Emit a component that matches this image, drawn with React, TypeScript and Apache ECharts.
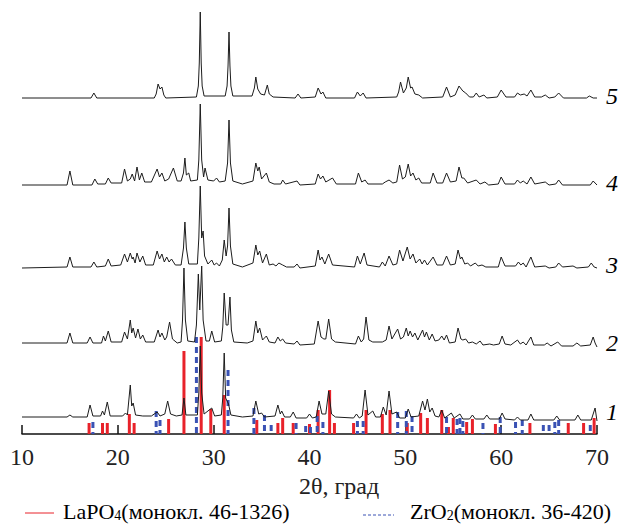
import React, { useEffect, useRef } from "react";
import * as echarts from "echarts";

// X axis
const xMin = 10;
const xMax = 70;
const xTicks = [10, 20, 30, 40, 50, 60, 70];

// Vertical offsets of the patterns (stacked curves), arbitrary units
const curveNames = ["1", "2", "3", "4", "5"];
const curveOffsets = [16, 89, 166, 249, 336];

// Pattern 1 (bottom) [2θ, I]
const pattern1: number[][] = [
  [10, 1], [14.7, 1], [15.0, 3], [15.3, 1], [16.8, 1], [17.1, 13], [17.4, 2], [18.2, 2], [18.4, 7], [18.6, 3],
  [18.9, 16], [19.2, 2], [20.5, 2], [20.8, 5], [21.0, 3], [21.3, 33], [21.45, 12], [21.6, 15], [21.85, 3], [22.6, 2],
  [23.5, 2], [24.1, 6], [24.4, 2], [24.9, 4], [25.2, 17], [25.5, 4], [26.1, 2], [26.7, 3], [26.9, 20], [27.1, 3],
  [28.3, 3], [28.45, 25], [28.6, 72], [28.75, 25], [29.0, 4], [29.8, 10], [30.1, 2], [30.8, 3], [30.95, 20], [31.1, 65],
  [31.25, 20], [31.55, 14], [31.8, 3], [33.0, 1], [34.1, 2], [34.4, 17], [34.7, 4], [35.0, 5], [35.3, 1], [36.4, 2],
  [36.7, 13], [36.95, 4], [37.1, 7], [37.4, 1], [38.0, 1], [38.3, 6], [38.6, 0], [39.7, 0], [40.0, 4], [40.3, 0],
  [40.7, 1], [41.0, 17], [41.3, 4], [41.7, 4], [42.0, 27], [42.3, 4], [42.7, 1], [44.6, 0], [44.9, 4], [45.2, 0],
  [45.5, 2], [45.8, 28], [46.1, 3], [46.6, 7], [46.9, 1], [47.4, 1], [47.7, 11], [48.0, 3], [48.3, 27], [48.6, 4],
  [49.1, 6], [49.4, 0], [50.0, 0], [50.3, 9], [50.6, 1], [51.4, 2], [51.8, 17], [52.05, 8], [52.3, 19], [52.55, 6],
  [52.8, 10], [53.1, 2], [53.5, 1], [53.8, 8], [54.1, 0], [54.8, 5], [55.1, 0], [55.7, 4], [56.0, -1], [56.7, -1],
  [57.0, 3], [57.3, -1], [58.2, -1], [58.5, 3], [58.8, -1], [59.8, -1], [60.1, 5], [60.4, -1], [61.4, -2], [61.7, 1],
  [62.0, -2], [62.8, -2], [63.1, 4], [63.4, -2], [65.5, -2], [65.8, 2], [66.1, -2], [67.7, -2], [68.0, 3], [68.3, -2],
  [69.4, -2], [69.8, 10], [70, -3],
];

// Pattern 2
const pattern2: number[][] = [
  [10, 2], [14.7, 2], [15.0, 12], [15.3, 2], [16.8, 2], [17.1, 8], [17.4, 2], [18.3, 2], [18.5, 9], [18.7, 4],
  [19.0, 14], [19.3, 3], [20.4, 3], [20.7, 13], [21.0, 6], [21.3, 25], [21.45, 12], [21.6, 17], [21.85, 7], [22.1, 16],
  [22.35, 6], [22.6, 10], [22.9, 3], [23.8, 3], [24.2, 15], [24.4, 8], [24.6, 12], [24.9, 5], [25.1, 8], [25.4, 23],
  [25.7, 6], [26.2, 2], [26.6, 3], [26.75, 25], [26.9, 77], [27.05, 25], [27.3, 4], [28.0, 3], [28.2, 20], [28.4, 71],
  [28.55, 35], [28.75, 79], [28.9, 25], [29.2, 4], [29.55, 4], [29.8, 14], [30.1, 3], [30.8, 4], [30.95, 18], [31.1, 52],
  [31.3, 20], [31.5, 20], [31.7, 48], [31.85, 15], [32.1, 3], [33.5, 2], [34.1, 4], [34.4, 24], [34.6, 12], [34.8, 17],
  [35.1, 5], [35.5, 9], [35.8, 3], [36.4, 2], [36.7, 8], [36.95, 4], [37.2, 6], [37.5, 2], [38.4, 1], [38.7, 4],
  [39.0, 0], [40.5, 1], [40.9, 24], [41.2, 8], [41.5, 6], [41.7, 6], [42.0, 26], [42.3, 6], [42.7, 3], [44.8, 1],
  [45.1, 9], [45.4, 3], [45.65, 6], [45.9, 28], [46.2, 5], [46.6, 3], [47.6, 3], [48.0, 5], [48.3, 19], [48.6, 6],
  [49.2, 16], [49.5, 6], [49.8, 8], [50.1, 17], [50.3, 9], [50.5, 14], [50.75, 8], [51.0, 12], [51.3, 5], [51.8, 15],
  [52.0, 8], [52.2, 13], [52.5, 5], [52.8, 11], [53.1, 4], [53.5, 5], [53.8, 9], [54.05, 5], [54.3, 10], [54.6, 2],
  [55.2, 3], [55.5, 17], [55.8, 6], [56.0, 5], [56.3, 6], [56.6, 2], [57.0, 3], [57.4, 1], [57.8, 4], [58.1, 0],
  [58.8, 1], [59.2, 0], [59.8, 1], [60.1, 9], [60.4, 1], [61.0, 0], [61.7, 5], [62.0, 1], [62.3, 3], [62.6, 0],
  [63.1, 8], [63.4, 0], [64.5, 0], [64.8, 2], [65.2, -1], [65.9, 3], [66.3, -1], [67.5, -1], [67.9, 2], [68.3, -1],
  [69.3, 0], [69.6, 8], [69.8, 2], [70, -2],
];

// Pattern 3
const pattern3: number[][] = [
  [10, 0], [14.7, 1], [15.0, 11], [15.3, 1], [17.2, 1], [17.5, 6], [17.8, 1], [18.7, 2], [19.0, 9], [19.3, 2],
  [20.3, 3], [20.7, 14], [21.0, 6], [21.3, 15], [21.5, 9], [21.6, 11], [21.8, 5], [22.0, 15], [22.3, 6], [22.6, 12],
  [22.9, 3], [23.7, 3], [24.1, 17], [24.35, 9], [24.6, 14], [24.85, 6], [25.1, 11], [25.35, 6], [25.6, 9], [26.0, 3],
  [26.6, 3], [26.85, 20], [27.0, 46], [27.15, 20], [27.4, 4], [28.3, 4], [28.45, 30], [28.6, 82], [28.75, 30], [28.9, 37],
  [29.05, 12], [29.4, 4], [29.8, 8], [30.05, 3], [30.3, 5], [30.6, 2], [30.9, 8], [31.1, 28], [31.3, 12], [31.45, 22],
  [31.6, 60], [31.75, 22], [32.0, 4], [33.0, 1], [34.1, 5], [34.4, 23], [34.6, 13], [34.8, 17], [35.1, 5], [35.5, 14],
  [35.8, 3], [36.2, 4], [36.5, 2], [36.8, 5], [37.2, 3], [37.6, 1], [38.4, 1], [38.7, 4], [39.0, 0], [40.6, 2],
  [40.9, 18], [41.1, 8], [41.3, 11], [41.6, 4], [42.0, 14], [42.4, 3], [44.7, 1], [45.0, 12], [45.3, 4], [45.7, 15],
  [46.0, 3], [47.3, 1], [47.6, 6], [47.9, 2], [48.3, 12], [48.7, 3], [49.1, 4], [49.4, 18], [49.75, 7], [50.2, 21],
  [50.5, 9], [50.8, 14], [51.1, 5], [51.5, 9], [51.75, 4], [52.0, 8], [52.3, 3], [52.9, 11], [53.3, 3], [53.9, 3],
  [54.3, 12], [54.7, 3], [55.2, 4], [55.5, 18], [55.75, 9], [55.9, 11], [56.2, 4], [56.5, 5], [56.8, 2], [57.3, 5],
  [57.6, 2], [58.0, 3], [58.4, 1], [59.7, 1], [60.0, 11], [60.4, 2], [61.5, 2], [61.8, 6], [62.05, 3], [62.3, 5],
  [62.6, 1], [63.1, 11], [63.5, 1], [64.6, 2], [65.0, 0], [65.7, 1], [66.0, 5], [66.4, 1], [67.5, 2], [67.9, 0],
  [69.1, 1], [69.4, 5], [69.7, 1], [70, 0],
];

// Pattern 4
const pattern4: number[][] = [
  [10, 0], [14.7, 0], [15.0, 14], [15.3, 0], [17.3, 0], [17.6, 6], [17.9, 1], [18.7, 1], [19.0, 7], [19.3, 2],
  [20.4, 2], [20.7, 16], [21.0, 4], [21.3, 6], [21.5, 11], [21.75, 4], [22.0, 18], [22.25, 5], [22.5, 12], [22.8, 3],
  [23.5, 3], [24.1, 16], [24.35, 8], [24.6, 12], [24.9, 4], [25.3, 6], [25.8, 17], [26.2, 4], [26.6, 4], [26.85, 12],
  [27.0, 27], [27.15, 10], [27.4, 12], [27.6, 4], [28.3, 5], [28.45, 25], [28.6, 81], [28.75, 25], [28.95, 8], [29.1, 17],
  [29.4, 5], [30.0, 4], [30.3, 7], [30.6, 3], [31.2, 4], [31.45, 22], [31.6, 65], [31.75, 22], [32.0, 4], [33.0, 1],
  [34.1, 4], [34.4, 22], [34.6, 14], [34.75, 18], [35.0, 6], [35.5, 12], [35.8, 3], [36.3, 1], [37.0, 1], [37.2, 5],
  [37.5, 1], [38.7, 4], [39.0, 0], [40.6, 1], [40.9, 11], [41.15, 6], [41.4, 9], [41.7, 3], [42.4, 7], [42.8, 1],
  [44.8, 1], [45.1, 12], [45.45, 3], [45.8, 5], [46.1, 1], [47.6, 1], [47.9, 3], [48.3, 5], [48.7, 2], [49.1, 3],
  [49.4, 20], [49.7, 6], [50.0, 8], [50.3, 21], [50.55, 9], [50.8, 12], [51.1, 5], [51.4, 7], [51.7, 2], [52.6, 2],
  [52.9, 12], [53.3, 2], [53.9, 2], [54.3, 12], [54.7, 3], [55.3, 4], [55.6, 18], [55.9, 7], [56.1, 7], [56.5, 2],
  [57.4, 5], [57.8, 1], [58.3, 3], [58.7, 0], [59.7, 1], [60.0, 8], [60.4, 1], [61.4, 1], [61.7, 5], [62.0, 2],
  [62.3, 4], [62.7, 1], [63.1, 8], [63.5, 1], [64.6, 3], [65.0, 0], [65.7, 1], [66.0, 5], [66.4, 0], [69.3, 0],
  [69.6, 4], [69.9, 1], [70, 0],
];

// Pattern 5 (top)
const pattern5: number[][] = [
  [10, 0], [17.2, 0], [17.5, 5], [17.8, 0], [23.8, 0], [24.0, 4], [24.2, 14], [24.4, 9], [24.6, 11], [24.8, 3],
  [25.0, 0], [28.2, 1], [28.4, 12], [28.5, 35], [28.6, 86], [28.7, 35], [28.8, 12], [29.0, 2], [31.2, 2], [31.4, 12],
  [31.5, 32], [31.6, 66], [31.7, 32], [31.8, 12], [32.0, 2], [34.0, 2], [34.25, 10], [34.4, 21], [34.6, 9], [34.9, 4],
  [35.3, 3], [35.6, 13], [35.8, 4], [36.2, 1], [38.5, 0], [38.8, 4], [39.1, 0], [40.6, 1], [40.9, 10], [41.2, 4],
  [41.4, 6], [41.7, 0], [44.7, 0], [45.0, 6], [45.3, 2], [45.6, 5], [45.9, 0], [49.1, 1], [49.3, 6], [49.5, 16],
  [49.8, 5], [50.1, 10], [50.3, 21], [50.55, 10], [50.7, 11], [51.0, 4], [51.4, 3], [51.8, 0], [53.9, 1], [54.3, 11],
  [54.7, 1], [55.2, 3], [55.6, 12], [56.0, 7], [56.3, 5], [56.7, 1], [57.1, 1], [57.4, 5], [57.7, 1], [58.2, 3],
  [58.5, 0], [59.6, 1], [60.0, 8], [60.5, 1], [61.4, 1], [61.7, 5], [62.0, 3], [62.4, 4], [62.7, 2], [63.1, 8],
  [63.5, 1], [64.2, 1], [64.6, 3], [65.0, 0], [65.6, 1], [66.0, 5], [66.5, 0], [68.9, 0], [69.2, 2], [69.6, 0],
  [70, 0],
];

// Reference lines: LaPO4 (monoclinic, 46-1326) [2θ, I]
const lapo4Lines: number[][] = [
  [17.0, 11], [18.4, 11], [18.9, 11], [21.2, 20], [21.7, 11], [25.3, 15], [26.9, 83], [28.7, 97], [29.7, 25],
  [31.1, 39], [34.5, 14], [36.7, 11], [37.2, 16], [38.3, 11], [40.0, 10], [40.9, 24], [42.1, 44], [42.6, 11],
  [44.6, 11], [45.9, 24], [47.6, 20], [48.4, 24], [50.2, 11], [51.6, 21], [52.3, 16], [53.8, 24], [54.5, 7],
  [55.0, 16], [56.4, 12], [57.0, 15], [59.4, 10], [63.0, 11], [67.0, 11], [68.6, 11], [69.7, 16],
];

// Reference lines: ZrO2 (monoclinic, 36-420) [2θ, I]
const zro2Lines: number[][] = [
  [17.4, 12], [24.0, 23], [24.4, 14], [28.2, 97], [31.5, 64], [34.2, 26], [35.3, 19], [36.0, 9], [38.6, 11],
  [39.6, 8], [40.1, 7], [40.8, 18], [41.4, 12], [45.0, 13], [45.6, 13], [49.2, 22], [50.1, 23], [50.7, 18],
  [54.3, 17], [55.4, 15], [55.7, 16], [56.0, 13], [58.1, 11], [59.9, 17], [61.5, 12], [62.2, 14], [64.4, 9],
  [65.0, 9], [65.6, 12], [66.0, 14], [69.3, 9],
];

const patterns = [pattern1, pattern2, pattern3, pattern4, pattern5];
const legendLaPO4 = ["LaPO", "4", "(монокл. 46-1326)"];
const legendZrO2 = ["ZrO", "2", "(монокл. 36-420)"];
const axisName = "2θ, град";

const SERIF = "Liberation Serif";
const RED = "#e8222a";
const BLUE = "#3a52b4";
const INK = "#222";

function stickSeries(name: string, data: number[][], color: string, dash: number[] | null) {
  return {
    type: "custom",
    name,
    data,
    encode: { x: 0, y: 1 },
    z: 1,
    renderItem: (_params: any, api: any) => {
      const top = api.coord([api.value(0), api.value(1)]);
      const bottom = api.coord([api.value(0), 0]);
      return {
        type: "line",
        shape: { x1: top[0], y1: top[1], x2: bottom[0], y2: bottom[1] },
        style: { stroke: color, lineWidth: 3, lineDash: dash || undefined },
      };
    },
  };
}

export default function App() {
  const ref = useRef<HTMLDivElement>(null);

  useEffect(() => {
    if (!ref.current) return;
    document.body.style.margin = "0";
    const chart = echarts.init(ref.current, null, { renderer: "svg" });

    const curveSeries = patterns.map((p, i) => ({
      type: "line",
      name: curveNames[i],
      data: p.map(([x, y]) => [x, y + curveOffsets[i]]),
      showSymbol: false,
      symbol: "none",
      z: 3,
      lineStyle: { color: "#1c1c1c", width: 1 },
    }));

    const labelYs = [412, 343, 265, 183, 96];

    const bigRich = {
      t: { fontFamily: SERIF, fontSize: 24, color: INK },
      i: { fontFamily: SERIF, fontSize: 24, color: INK, fontStyle: "italic" },
    };

    const subRich = {
      a: { fontFamily: SERIF, fontSize: 22, color: INK, lineHeight: 22 },
      s: { fontFamily: SERIF, fontSize: 14, color: INK, lineHeight: 22, verticalAlign: "bottom" },
    };

    chart.setOption({
      animation: false,
      backgroundColor: "#ffffff",
      textStyle: { fontFamily: SERIF },
      grid: { left: 22, right: 25, top: 4, bottom: 90 },
      xAxis: {
        type: "value",
        min: xMin,
        max: xMax,
        interval: 10,
        axisLine: { lineStyle: { color: "#111", width: 1.5 } },
        axisTick: { inside: true, length: 9, lineStyle: { color: "#111", width: 1.5 } },
        axisLabel: {
          fontFamily: SERIF,
          fontSize: 24,
          color: INK,
          margin: 11,
          formatter: (v: number) => (xTicks.includes(v) ? `{t|${v}}` : ""),
          rich: bigRich,
        },
        splitLine: { show: false },
        name: `{t|${axisName}}`,
        nameLocation: "middle",
        nameGap: 33,
        nameTextStyle: { fontFamily: SERIF, fontSize: 24, color: INK, padding: [0, 0, 0, 59], rich: bigRich },
      },
      yAxis: { type: "value", min: 0, max: 430, show: false },
      series: [
        stickSeries("LaPO4", lapo4Lines, RED, null),
        stickSeries("ZrO2", zro2Lines, BLUE, [6, 4]),
        ...curveSeries,
      ],
      graphic: [
        ...curveNames.map((n, i) => ({
          type: "text",
          x: 606,
          y: labelYs[i],
          style: {
            text: `{i|${n}}`,
            rich: bigRich,
            align: "left",
            verticalAlign: "middle",
          },
        })),
        { type: "line", shape: { x1: 25, y1: 513, x2: 54, y2: 513 }, style: { stroke: RED, lineWidth: 1 } },
        {
          type: "text",
          x: 63,
          y: 511,
          style: {
            text: `{a|${legendLaPO4[0]}}{s|${legendLaPO4[1]}}{a|${legendLaPO4[2]}}`,
            rich: subRich,
            verticalAlign: "middle",
          },
        },
        {
          type: "line",
          shape: { x1: 363, y1: 515, x2: 394, y2: 515 },
          style: { stroke: BLUE, lineWidth: 1, lineDash: [3, 2] },
        },
        {
          type: "text",
          x: 410,
          y: 511,
          style: {
            text: `{a|${legendZrO2[0]}}{s|${legendZrO2[1]}}{a|${legendZrO2[2]}}`,
            rich: subRich,
            verticalAlign: "middle",
          },
        },
      ],
    });

    return () => chart.dispose();
  }, []);

  return <div ref={ref} style={{ width: 622, height: 524 }} />;
}
